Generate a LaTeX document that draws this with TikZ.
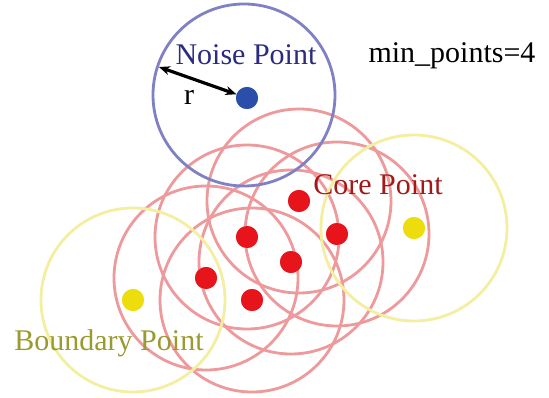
\documentclass[tikz,border=0pt]{standalone}
\usepackage{fontspec}
\setmainfont{Liberation Serif}
\usetikzlibrary{arrows.meta}
\definecolor{noiseblue}{HTML}{2A4FAA}
\definecolor{noisering}{HTML}{8080C4}
\definecolor{noisetext}{HTML}{2B2B80}
\definecolor{corered}{HTML}{E8141C}
\definecolor{corering}{HTML}{EE9A9C}
\definecolor{coretext}{HTML}{A51818}
\definecolor{bndyellow}{HTML}{EEDD0C}
\definecolor{bndring}{HTML}{F4EFA0}
\definecolor{bndtext}{HTML}{9A9A30}
\tikzset{
  dot/.style={circle, inner sep=0pt, minimum size=22pt, fill=#1, draw=none},
  ring/.style={draw=#1, line width=2.8pt},
  lbl/.style={anchor=base, inner sep=0pt, font=\fontsize{30}{36}\selectfont}
}
\begin{document}
\begin{tikzpicture}[x=1pt,y=-1pt]
\useasboundingbox (0,0) rectangle (549,398);
\fill[white] (0,0) rectangle (549,398);
% points
\node[dot=corered] (c1) at (299,201) {};
\node[dot=corered] (c2) at (247,237) {};
\node[dot=corered] (c3) at (337,234) {};
\node[dot=corered] (c4) at (291,262) {};
\node[dot=corered] (c5) at (206,278) {};
\node[dot=corered] (c6) at (252,300) {};
\node[dot=bndyellow] (b1) at (133,300) {};
\node[dot=bndyellow] (b2) at (414,228) {};
\node[dot=noiseblue] (n) at (247,98) {};
% rings
\foreach \p in {c1,c2,c3,c4,c5,c6}
  \draw[ring=corering] (\p.center) circle (92);
\draw[ring=bndring] (b1.center) circle (92);
\draw[ring=bndring] (b2.center) circle (93);
\draw[ring=noisering] (244,95) circle (91);
% redraw dots on top
\foreach \p/\c in {c1/corered,c2/corered,c3/corered,c4/corered,c5/corered,c6/corered,b1/bndyellow,b2/bndyellow,n/noiseblue}
  \fill[\c] (\p) circle (11);
% radius arrow
\coordinate (edge) at (159,67);
\draw[line width=3.2pt, {Stealth[length=11pt,width=9pt]}-{Stealth[length=11pt,width=9pt]}] (edge) -- (n);
% labels
\node[lbl, text=noisetext] (tn) at (246,65) {Noise Point};
\node[lbl] (tr) at (189,105) {r};
\node[lbl] (tm) at (452,63) {min\_points=4};
\node[lbl, text=coretext] (tc) at (378,195) {Core Point};
\node[lbl, text=bndtext] (tb) at (109,350) {Boundary Point};
\end{tikzpicture}
\end{document}
